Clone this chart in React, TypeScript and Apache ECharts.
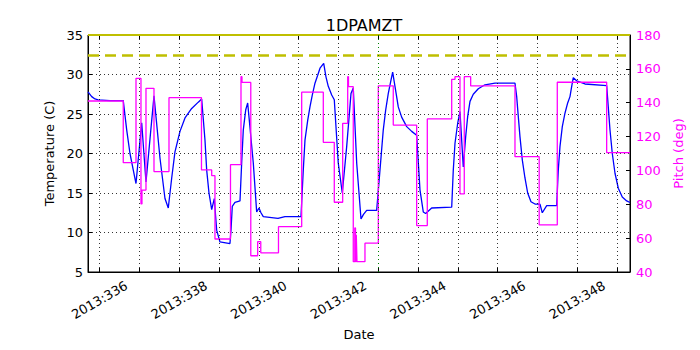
import React, { useEffect, useRef } from "react";
import * as echarts from "echarts";

// Temperature (1DPAMZT), day-of-year 2013
const tempDays = [
  335.709, 335.802, 335.884, 335.967, 336.261, 336.595, 336.681, 336.764, 336.847, 336.915,
  337.058, 337.166, 337.367, 337.518, 337.643, 337.726, 337.812, 337.894, 338.02, 338.146,
  338.314, 338.48, 338.565, 338.648, 338.691, 338.749, 338.817, 338.882, 338.942, 339.025,
  339.276, 339.302, 339.334, 339.402, 339.528, 339.57, 339.611, 339.671, 339.721, 339.862,
  339.947, 340.005, 340.055, 340.113, 340.482, 340.658, 341.06, 341.118, 341.161, 341.229,
  341.286, 341.344, 341.412, 341.48, 341.538, 341.631, 341.688, 341.746, 341.832, 341.897,
  341.997, 342.098, 342.209, 342.317, 342.374, 342.46, 342.568, 342.631, 342.711, 342.962,
  343.045, 343.128, 343.188, 343.254, 343.314, 343.364, 343.422, 343.505, 343.59, 343.716,
  343.842, 343.967, 344.05, 344.133, 344.193, 344.344, 344.847, 344.887, 344.93, 344.997,
  345.055, 345.138, 345.198, 345.249, 345.307, 345.389, 345.515, 345.683, 345.935, 346.437,
  346.48, 346.52, 346.563, 346.621, 346.688, 346.756, 346.839, 346.94, 347.065, 347.123,
  347.234, 347.485, 347.525, 347.568, 347.626, 347.693, 347.761, 347.819, 347.862, 347.902,
  347.987, 348.196, 348.741, 348.781, 348.824, 348.882, 348.95, 349.033, 349.133, 349.244,
  349.327,
];
const tempValues = [
  27.8, 27.2, 26.9, 26.8, 26.7, 26.7, 23.0, 20.0, 17.9, 16.2,
  23.9, 16.4, 27.3, 19.4, 14.3, 13.1, 16.9, 20.2, 22.8, 24.5,
  25.7, 26.5, 26.9, 21.7, 17.9, 15.0, 12.9, 14.3, 10.3, 8.8,
  8.6, 10.3, 13.3, 13.8, 14.0, 18.8, 23.0, 25.5, 26.4, 18.8,
  12.6, 13.1, 12.5, 12.0, 11.8, 12.0, 12.0, 17.9, 21.7, 24.2,
  25.9, 27.4, 28.9, 29.9, 30.8, 31.4, 29.7, 28.5, 27.4, 26.8,
  18.8, 15.0, 20.9, 27.6, 28.3, 18.8, 11.7, 12.3, 12.8, 12.8,
  17.9, 23.0, 25.5, 27.6, 29.1, 30.3, 28.5, 25.9, 24.6, 23.4,
  22.8, 22.3, 15.4, 12.6, 12.4, 13.1, 13.2, 17.9, 21.3, 23.8,
  25.3, 18.3, 22.1, 24.7, 26.6, 27.5, 28.2, 28.7, 28.9, 28.9,
  27.2, 24.7, 22.1, 19.2, 16.9, 15.0, 13.9, 13.6, 13.6, 12.5,
  13.4, 13.4, 17.9, 20.9, 23.4, 25.1, 26.4, 27.2, 28.5, 29.6,
  29.2, 28.8, 28.6, 25.9, 23.0, 20.0, 17.5, 15.6, 14.5, 14.0,
  13.8,
];

// Pitch (deg), step changes
const pitchDays = [
  335.709, 336.595, 336.915, 337.04, 337.065, 337.166, 337.367, 337.744, 338.56, 338.817,
  338.899, 339.289, 339.553, 339.578, 339.799, 339.972, 340.05, 340.495, 341.078, 341.621,
  341.897, 342.108, 342.234, 342.254, 342.374, 342.412, 342.43, 342.45, 342.467, 342.668,
  343.003, 343.379, 343.967, 344.234, 344.847, 344.93, 345.055, 345.163, 345.324, 346.437,
  347.045, 347.5, 348.741, 349.327,
];
const pitchValues = [
  141.0, 104.6, 154.4, 80.2, 88.4, 148.5, 99.3, 143.0, 100.3, 96.9,
  59.5, 103.4, 155.4, 152.0, 49.6, 57.9, 51.3, 66.8, 146.2, 116.6,
  81.2, 127.8, 155.4, 149.5, 46.1, 66.0, 46.1, 62.0, 46.1, 57.0,
  150.0, 126.8, 67.4, 130.4, 153.8, 155.4, 86.1, 155.4, 149.9, 108.1,
  67.8, 152.1, 110.5, 110.5,
];

const xMin = 335.709;
const xMax = 349.327;
const dayTicks = [336, 337, 338, 339, 340, 341, 342, 343, 344, 345, 346, 347, 348, 349];
const dayLabels = [336, 338, 340, 342, 344, 346, 348];
const planningLimit = 32.5;
const upperLimit = 35;
const markerDay = 343;

const FONT = "DejaVu Sans";

export default function App() {
  const ref = useRef<HTMLDivElement>(null);
  useEffect(() => {
    if (!ref.current) return;
    const chart = echarts.init(ref.current, undefined, { renderer: "svg" });
    const gridDotted = { color: "#000", width: 0.8, type: [1, 3] as any };
    chart.setOption({
      animation: false,
      textStyle: { fontFamily: FONT },
      title: {
        text: "1DPAMZT",
        left: 359,
        top: 12,
        textAlign: "center",
        textStyle: { fontFamily: FONT, fontSize: 16, fontWeight: "normal", color: "#000" },
      },
      grid: {
        left: 88,
        right: 70,
        top: 35,
        bottom: 78,
        show: true,
        borderColor: "#000",
        borderWidth: 1,
        backgroundColor: "transparent",
      },
      xAxis: [
        {
          type: "value",
          min: xMin,
          max: xMax,
          name: "Date",
          nameLocation: "middle",
          nameGap: 53,
          nameTextStyle: { fontFamily: FONT, fontSize: 13, color: "#000" },
          axisLine: { show: true, lineStyle: { color: "#000" } },
          axisTick: { show: true, inside: true, length: 4, customValues: dayTicks, lineStyle: { color: "#000" } },
          axisLabel: {
            show: true,
            customValues: dayLabels,
            rotate: 30,
            align: "center",
            verticalAlign: "middle",
            margin: 28,
            fontFamily: FONT,
            fontSize: 13,
            color: "#000",
            formatter: (v: number) => "2013:" + Math.round(v),
          },
          splitLine: { show: false },
        },
        {
          type: "value",
          position: "top",
          min: xMin,
          max: xMax,
          axisLine: { show: false },
          axisTick: { show: true, inside: true, length: 4, customValues: dayTicks, lineStyle: { color: "#000" } },
          axisLabel: { show: false },
          splitLine: { show: false },
        },
      ],
      yAxis: [
        {
          type: "value",
          min: 5,
          max: 35,
          interval: 5,
          name: "Temperature (C)",
          nameLocation: "middle",
          nameRotate: 90,
          nameGap: 29,
          nameTextStyle: { fontFamily: FONT, fontSize: 13, color: "#000" },
          axisLine: { show: true, lineStyle: { color: "#000" } },
          axisTick: { show: true, inside: true, length: 4, lineStyle: { color: "#000" } },
          axisLabel: { fontFamily: FONT, fontSize: 13, color: "#000", margin: 5 },
          splitLine: { show: true, lineStyle: gridDotted },
        },
        {
          type: "value",
          min: 40,
          max: 180,
          interval: 20,
          position: "right",
          name: "Pitch (deg)",
          nameLocation: "middle",
          nameRotate: 90,
          nameGap: 38,
          nameTextStyle: { fontFamily: FONT, fontSize: 13, color: "#ff00ff" },
          axisLine: { show: true, lineStyle: { color: "#000" } },
          axisTick: { show: true, inside: true, length: 4, lineStyle: { color: "#000" } },
          axisLabel: { fontFamily: FONT, fontSize: 13, color: "#ff00ff", margin: 6 },
          splitLine: { show: false },
        },
      ],
      series: [
        {
          type: "line",
          name: "grid",
          data: [],
          xAxisIndex: 0,
          yAxisIndex: 0,
          silent: true,
          markLine: {
            silent: true,
            symbol: "none",
            label: { show: false },
            lineStyle: gridDotted,
            data: dayTicks.map((d) => ({ xAxis: d })),
          },
        },
        {
          type: "line",
          name: "limits",
          data: [],
          xAxisIndex: 0,
          yAxisIndex: 0,
          silent: true,
          markLine: {
            silent: true,
            symbol: "none",
            label: { show: false },
            data: [
              { yAxis: planningLimit, lineStyle: { color: "#bfbf00", width: 2.5, type: [11, 6] as any } },
              { yAxis: upperLimit, lineStyle: { color: "#bfbf00", width: 2, type: "solid" } },
              { xAxis: markerDay, lineStyle: { color: "#008000", width: 1, type: [1, 3] as any } },
            ],
          },
        },
        {
          type: "line",
          name: "Temperature",
          xAxisIndex: 0,
          yAxisIndex: 0,
          showSymbol: false,
          symbol: "none",
          lineStyle: { color: "#0000ff", width: 1.3 },
          data: tempDays.map((d, i) => [d, tempValues[i]]),
          z: 3,
        },
        {
          type: "line",
          name: "Pitch",
          xAxisIndex: 0,
          yAxisIndex: 1,
          step: "end",
          showSymbol: false,
          symbol: "none",
          lineStyle: { color: "#ff00ff", width: 1.3 },
          data: pitchDays.map((d, i) => [d, pitchValues[i]]),
          z: 4,
        },
      ],
    });
    return () => chart.dispose();
  }, []);
  return <div ref={ref} style={{ width: 700, height: 350, position: "absolute", left: 0, top: 0 }} />;
}
